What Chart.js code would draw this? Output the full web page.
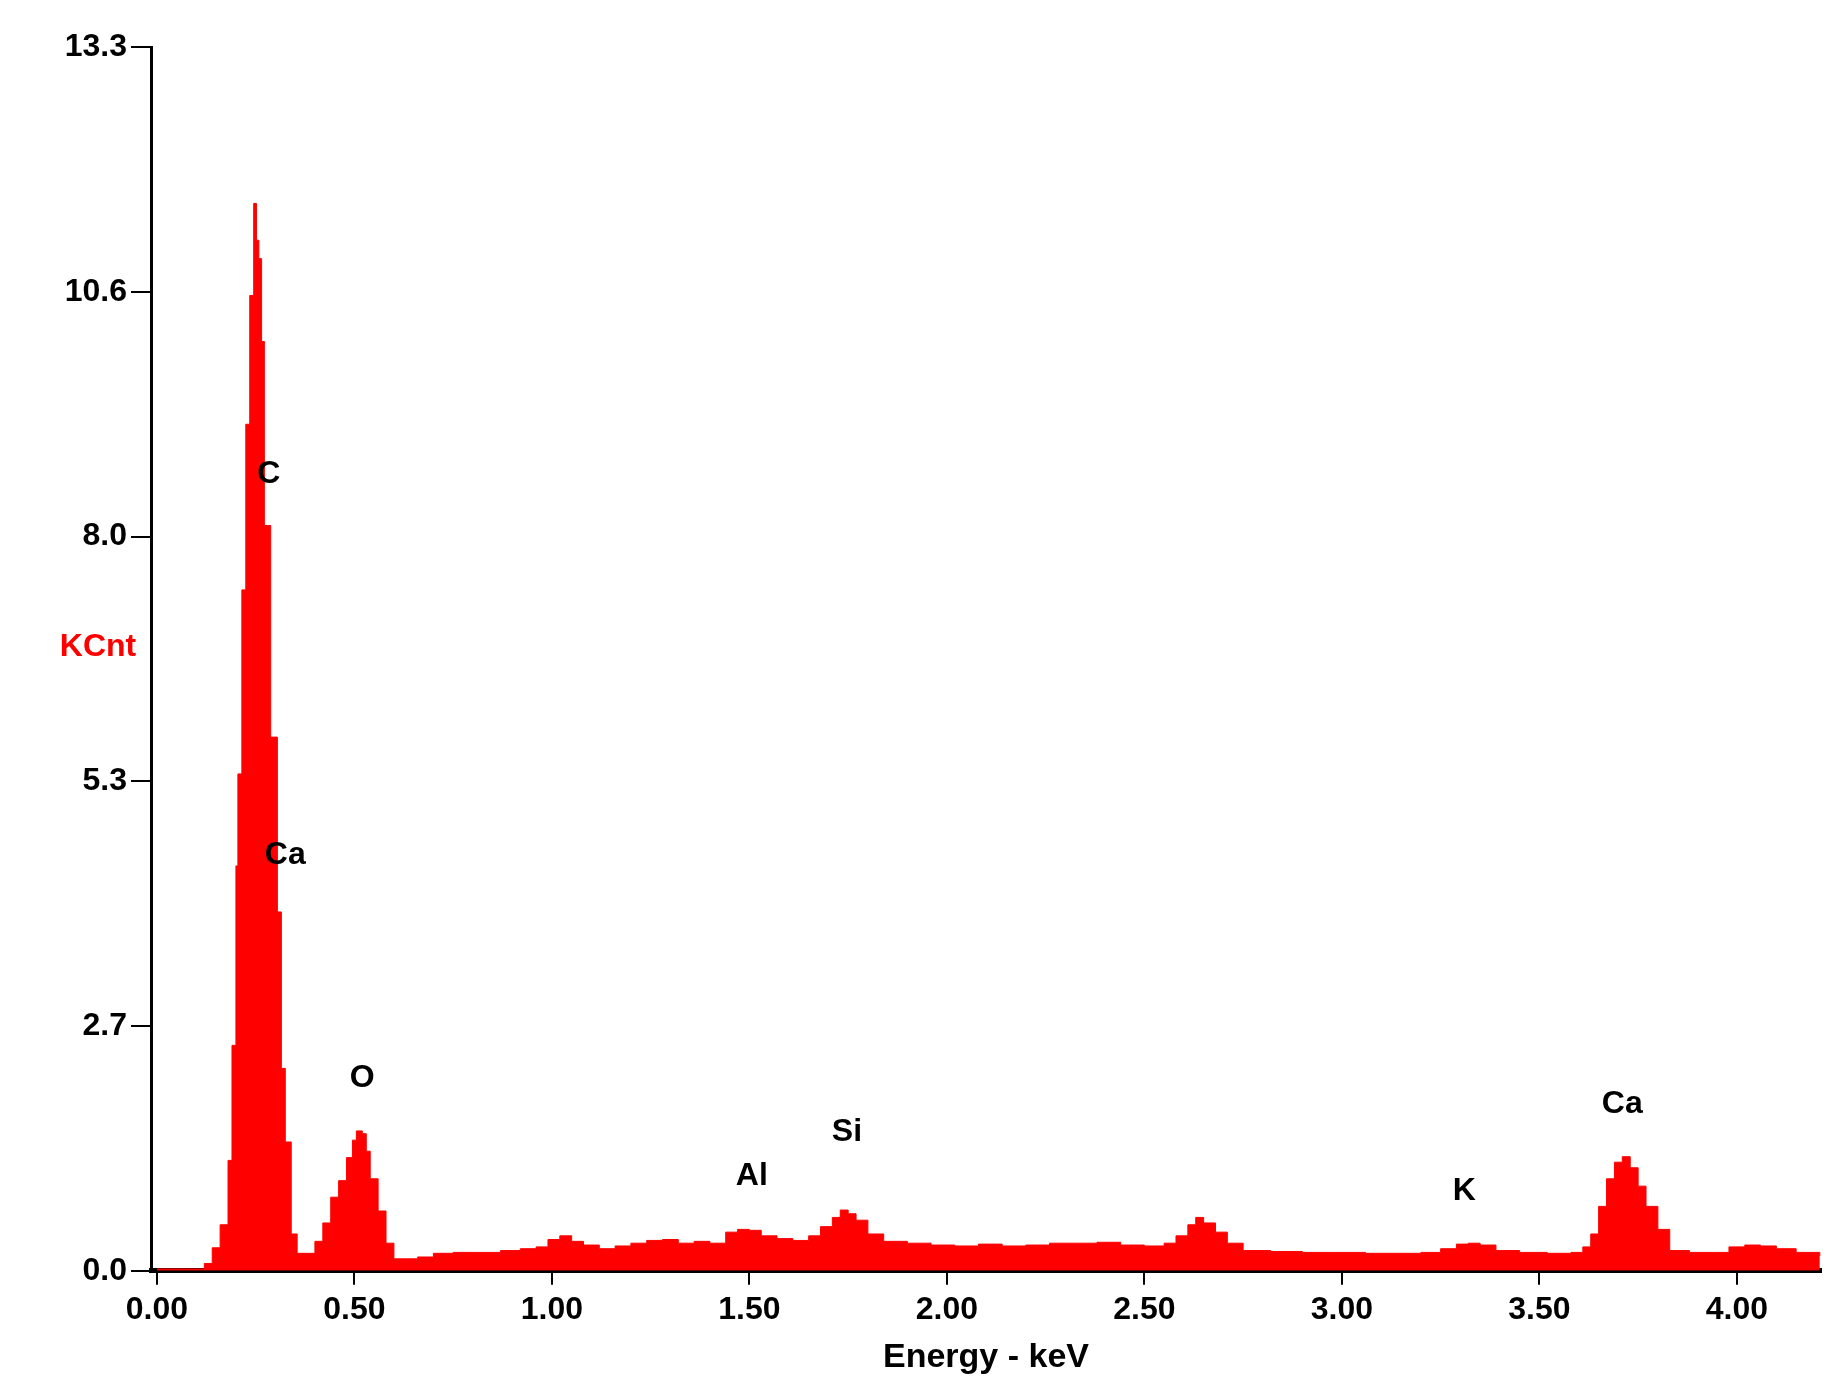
<!DOCTYPE html>
<html>
<head>
<meta charset="utf-8">
<script src="https://cdn.jsdelivr.net/npm/chart.js@4/dist/chart.umd.min.js"></script>
<style>
  html, body { margin: 0; padding: 0; background: #fff; }
  #wrap { width: 1844px; height: 1388px; }
</style>
</head>
<body>
<div id="wrap"><canvas id="eds"></canvas></div>
<script>
// spectrum, energy in keV and counts in KCnt
var energy = [0.00, 0.10, 0.12, 0.14, 0.16, 0.18, 0.19, 0.20, 0.205, 0.215, 0.225, 0.235, 0.245, 0.252, 0.258, 0.265, 0.272, 0.28, 0.288, 0.296, 0.305, 0.315, 0.325, 0.34, 0.355, 0.38, 0.40, 0.42, 0.44, 0.46, 0.48, 0.495, 0.505, 0.52, 0.53, 0.54, 0.56, 0.58, 0.60, 0.62, 0.66, 0.70, 0.75, 0.80, 0.87, 0.92, 0.96, 0.99, 1.02, 1.05, 1.08, 1.12, 1.16, 1.20, 1.24, 1.28, 1.32, 1.36, 1.40, 1.44, 1.47, 1.50, 1.53, 1.57, 1.61, 1.65, 1.68, 1.71, 1.73, 1.75, 1.77, 1.80, 1.84, 1.90, 1.96, 2.02, 2.08, 2.14, 2.20, 2.26, 2.32, 2.38, 2.44, 2.50, 2.55, 2.58, 2.61, 2.63, 2.65, 2.68, 2.71, 2.75, 2.82, 2.90, 2.98, 3.06, 3.14, 3.20, 3.25, 3.29, 3.32, 3.35, 3.39, 3.45, 3.52, 3.58, 3.61, 3.63, 3.65, 3.67, 3.69, 3.71, 3.73, 3.75, 3.77, 3.80, 3.83, 3.88, 3.94, 3.98, 4.02, 4.06, 4.10, 4.15, 4.21];
var counts = [0.02, 0.02, 0.08, 0.25, 0.50, 1.20, 2.45, 4.40, 5.40, 7.40, 9.20, 10.60, 11.60, 11.20, 11.00, 10.10, 8.10, 8.10, 5.80, 5.80, 3.90, 2.20, 1.40, 0.40, 0.19, 0.19, 0.32, 0.52, 0.80, 0.98, 1.23, 1.42, 1.52, 1.49, 1.30, 1.00, 0.65, 0.30, 0.13, 0.13, 0.15, 0.19, 0.20, 0.20, 0.22, 0.24, 0.26, 0.34, 0.38, 0.32, 0.28, 0.24, 0.27, 0.30, 0.33, 0.34, 0.30, 0.32, 0.30, 0.42, 0.45, 0.44, 0.38, 0.35, 0.33, 0.38, 0.48, 0.58, 0.66, 0.62, 0.55, 0.40, 0.32, 0.30, 0.28, 0.27, 0.29, 0.27, 0.28, 0.30, 0.30, 0.31, 0.28, 0.27, 0.30, 0.38, 0.50, 0.58, 0.52, 0.42, 0.30, 0.22, 0.21, 0.20, 0.20, 0.19, 0.19, 0.20, 0.24, 0.29, 0.30, 0.28, 0.22, 0.20, 0.19, 0.20, 0.26, 0.40, 0.70, 1.00, 1.18, 1.24, 1.12, 0.92, 0.70, 0.45, 0.22, 0.20, 0.20, 0.26, 0.28, 0.27, 0.24, 0.20, 0.16];
var yTickValues = [0, 2.66, 5.32, 7.98, 10.64, 13.3];
var yTickLabels = ['0.0', '2.7', '5.3', '8.0', '10.6', '13.3'];
var xTickValues = [0, 0.5, 1.0, 1.5, 2.0, 2.5, 3.0, 3.5, 4.0];
var peakNames = ['C', 'Ca', 'O', 'Al', 'Si', 'K', 'Ca'];
var peakX = [0.283, 0.325, 0.52, 1.506, 1.747, 3.31, 3.71];
var peakY = [8.66, 4.52, 2.09, 1.03, 1.51, 0.87, 1.81];

var FONT = "'Liberation Sans Narrow', 'Liberation Sans', Arial, sans-serif";

var points = energy.map((e, i) => ({ x: e, y: counts[i] }));

var labelPlugin = {
    id: 'peakLabels',
    afterDatasetsDraw(chart) {
        var ctx = chart.ctx;
        var xs = chart.scales.x, ys = chart.scales.y;
        ctx.save();
        ctx.font = 'bold 32px ' + FONT;
        ctx.fillStyle = '#000';
        ctx.textAlign = 'center';
        ctx.textBaseline = 'middle';
        for (var i = 0; i < peakNames.length; i++) {
            ctx.fillText(peakNames[i], xs.getPixelForValue(peakX[i]), ys.getPixelForValue(peakY[i]));
        }
        // unit label in the tick column
        ctx.fillStyle = '#ff0000';
        ctx.fillText('KCnt', 98, ys.getPixelForValue(6.78));
        ctx.restore();
    }
};

new Chart(document.getElementById('eds'), {
    type: 'line',
    data: {
        datasets: [{
            data: points,
            stepped: true,
            fill: 'origin',
            backgroundColor: '#ff0000',
            borderColor: '#ff0000',
            borderWidth: 1,
            pointRadius: 0
        }]
    },
    options: {
        responsive: true,
        maintainAspectRatio: false,
        animation: false,
        layout: { padding: { top: 47, right: 23, bottom: 0, left: 0 } },
        plugins: { legend: { display: false }, tooltip: { enabled: false } },
        scales: {
            x: {
                type: 'linear',
                min: -0.015,
                max: 4.213,
                afterBuildTicks: (s) => { s.ticks = xTickValues.map(v => ({ value: v })); },
                ticks: {
                    color: '#000',
                    font: { family: FONT, size: 32, weight: 'bold' },
                    maxRotation: 0,
                    padding: 6,
                    callback: (v) => Number(v).toFixed(2)
                },
                grid: { drawOnChartArea: false, color: '#000', lineWidth: 2, tickLength: 14 },
                border: { color: '#000', width: 5 },
                title: {
                    display: true,
                    text: 'Energy - keV',
                    color: '#000',
                    font: { family: FONT, size: 34, weight: 'bold' },
                    padding: { top: 2, bottom: 10 }
                }
            },
            y: {
                min: 0,
                max: 13.3,
                afterFit: (s) => { s.width = 151; },
                afterBuildTicks: (s) => { s.ticks = yTickValues.map(v => ({ value: v })); },
                ticks: {
                    color: '#000',
                    font: { family: FONT, size: 32, weight: 'bold' },
                    padding: 4,
                    callback: (v) => yTickLabels[yTickValues.indexOf(v)]
                },
                grid: { drawOnChartArea: false, color: '#000', lineWidth: 2, tickLength: 20 },
                border: { color: '#000', width: 3 }
            }
        }
    },
    plugins: [labelPlugin]
});
</script>
</body>
</html>
